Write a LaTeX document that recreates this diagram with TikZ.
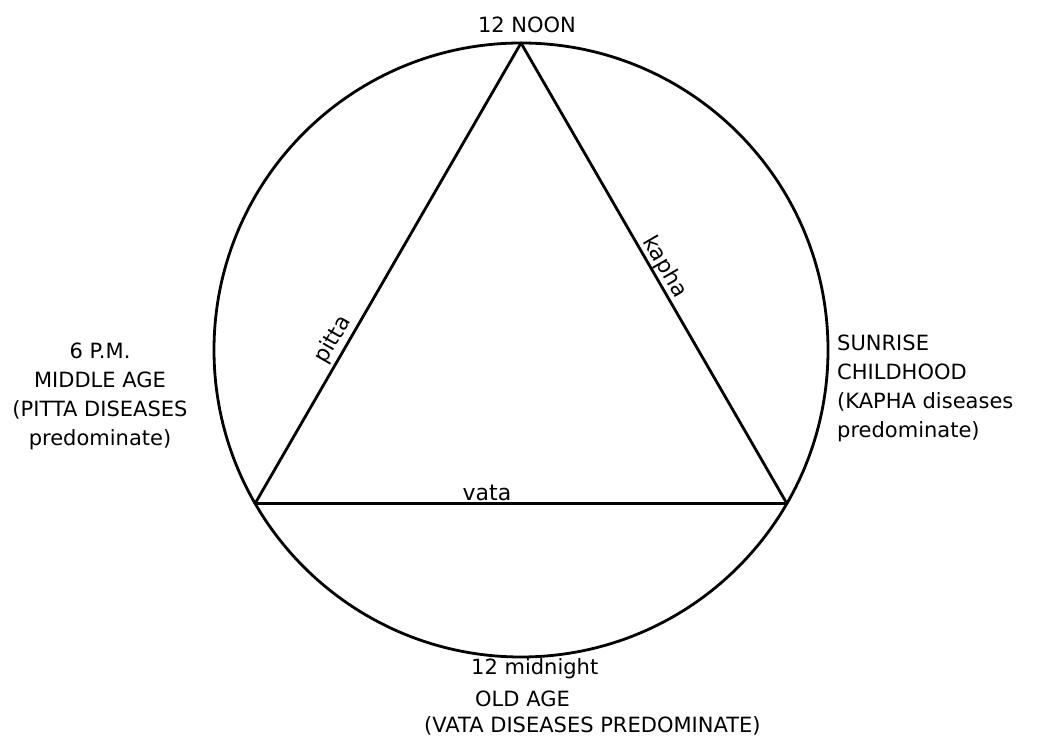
\documentclass[tikz,border=0pt]{standalone}
\usepackage{fontspec}
\setmainfont{DejaVu Sans}
\usetikzlibrary{
    positioning,
    calc
}
\tikzset{
    ring/.style={
        line width=2.8pt
    },
    side/.style={
        line width=2.8pt,
        line join=round
    },
    period/.style={
        font=\fontsize{21}{29}\selectfont,
        align=center,
        inner sep=1pt
    },
    dosha/.style={
        font=\fontsize{22}{24}\selectfont,
        sloped,
        above,
        inner sep=2pt
    }
}

\begin{document}
\begin{tikzpicture}[
    x=1pt,
    y=1pt
]
    \useasboundingbox (0,0) rectangle (1038,741);

    % Circulo y vertices
    \coordinate (c) at (521,391);
    \draw[ring] (c) circle (307);
    \coordinate (noon) at ($(c)+(90:307)$);
    \coordinate (pm) at ($(c)+(210:307)$);
    \coordinate (sunrise) at ($(c)+(330:307)$);

    % Triangulo
    \draw[side] (pm) -- node[dosha, pos=0.34] {pitta} (noon)
                     -- node[dosha, pos=0.5, inner sep=0pt] {kapha} (sunrise)
                     -- cycle;
    \path (pm) -- node[dosha, pos=0.436] {vata} (sunrise);

    % Etiquetas
    \node[period] (noonlbl) [above=9pt of noon, xshift=6pt] {12 NOON};
    \node[period] (pmlbl) at (100,345)
        {6 P.M.\\MIDDLE AGE\\(PITTA DISEASES\\predominate)};
    \node[period, align=left, anchor=west] (sunlbl) at (836,353)
        {SUNRISE\\CHILDHOOD\\(KAPHA diseases\\predominate)};
    \node[period, anchor=base west] (midnight) at (470,66) {12 midnight};
    \node[period, anchor=base west] (oldage) at (474,34) {OLD AGE};
    \node[period, anchor=base west] (vatadis) at (423,8)
        {(VATA DISEASES PREDOMINATE)};

\end{tikzpicture}
\end{document}
